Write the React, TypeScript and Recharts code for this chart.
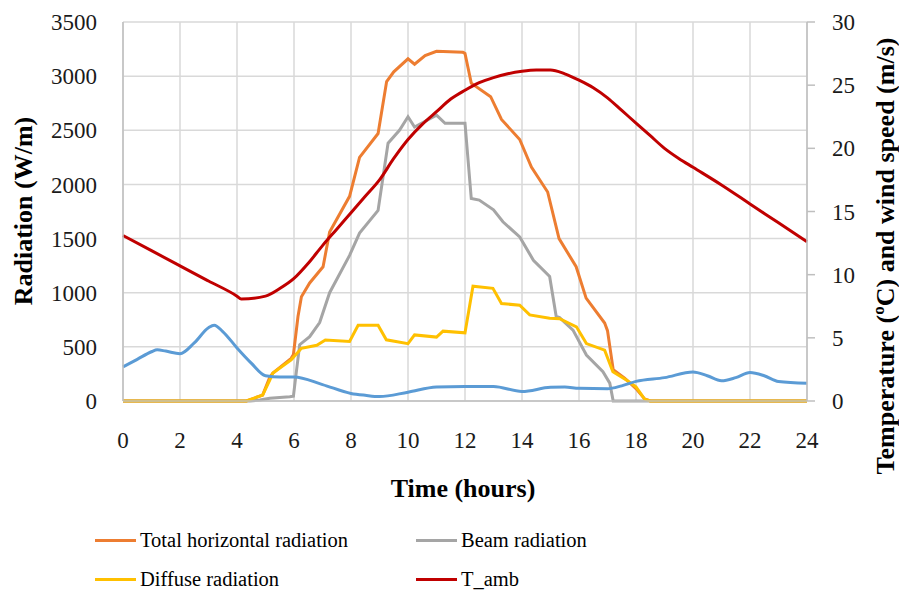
import { CartesianGrid, Line, LineChart, XAxis, YAxis } from "recharts"

const hourTicks = [0, 2, 4, 6, 8, 10, 12, 14, 16, 18, 20, 22, 24]
const radiationTicks = [0, 500, 1000, 1500, 2000, 2500, 3000, 3500]
const tempTicks = [0, 5, 10, 15, 20, 25, 30]

// Total horizontal radiation (W/m)
const totalHours = [0, 4.33, 4.9, 5.15, 5.26, 5.9, 5.98, 6.14, 6.26, 6.55, 7.02, 7.25, 7.95, 8.3, 8.95, 9.25, 9.5, 10.0, 10.23, 10.6, 11.0, 11.93, 12.0, 12.22, 12.9, 13.28, 13.92, 14.33, 14.9, 15.3, 15.9, 16.25, 16.9, 17.0, 17.2, 17.6, 18.0, 18.3, 18.5, 24]
const totalValues = [0, 0, 55, 220, 258, 394, 430, 780, 963, 1090, 1240, 1560, 1890, 2250, 2470, 2950, 3040, 3160, 3110, 3190, 3230, 3220, 3210, 2935, 2810, 2600, 2415, 2160, 1930, 1500, 1240, 950, 720, 650, 290, 210, 115, 20, 0, 0]

// Beam radiation
const beamHours = [0, 4.45, 4.8, 5.15, 5.85, 5.98, 6.05, 6.2, 6.55, 6.9, 7.25, 7.95, 8.3, 8.95, 9.3, 9.7, 10.0, 10.23, 11.0, 11.3, 12.0, 12.22, 12.5, 13.0, 13.33, 13.92, 14.4, 14.97, 15.2, 15.32, 15.79, 16.26, 16.84, 17.08, 17.2, 24]
const beamValues = [0, 0, 9, 25, 40, 45, 200, 520, 594, 725, 1000, 1345, 1550, 1760, 2380, 2500, 2625, 2530, 2640, 2565, 2565, 1870, 1855, 1765, 1655, 1515, 1300, 1150, 780, 770, 655, 425, 270, 165, 0, 0]

// Diffuse radiation
const diffuseHours = [0, 4.33, 4.9, 5.15, 5.26, 5.9, 6.26, 6.8, 7.1, 7.95, 8.25, 8.95, 9.24, 10.0, 10.23, 11.0, 11.23, 12.0, 12.28, 12.98, 13.28, 13.92, 14.27, 14.97, 15.32, 15.91, 16.26, 16.9, 17.19, 17.66, 18.0, 18.3, 18.5, 24]
const diffuseValues = [0, 0, 55, 194, 258, 380, 486, 515, 563, 550, 700, 700, 565, 530, 610, 590, 645, 630, 1060, 1040, 900, 885, 795, 765, 760, 685, 530, 470, 270, 195, 130, 18, 0, 0]

// T_amb (ºC)
const tempHours = [0, 1, 2, 3, 4, 4.15, 5, 5.5, 6, 6.5, 7, 7.5, 8, 8.5, 9, 9.5, 10, 10.5, 11, 11.5, 12, 12.5, 13, 13.5, 14, 14.5, 15, 15.5, 16, 16.5, 17, 17.5, 18, 18.5, 19, 19.5, 20, 21, 22, 23, 24]
const tempValues = [13.1, 11.9, 10.7, 9.5, 8.3, 8.07, 8.3, 8.9, 9.7, 10.9, 12.3, 13.6, 14.9, 16.2, 17.5, 19.2, 20.7, 21.9, 22.9, 23.9, 24.6, 25.2, 25.6, 25.9, 26.1, 26.2, 26.2, 25.9, 25.4, 24.8, 24.0, 23.0, 22.0, 21.0, 20.0, 19.2, 18.5, 17.1, 15.6, 14.1, 12.6]

// wind speed (m/s)
const windHours = [0, 0.5, 1, 1.2, 1.5, 2, 2.5, 3, 3.2, 3.5, 4, 4.5, 5, 5.5, 6, 7, 8, 8.5, 9, 10, 11, 12, 13, 14, 15, 15.5, 16, 17, 17.5, 18, 19, 20, 20.5, 21, 21.5, 22, 22.5, 23, 24]
const windValues = [2.7, 3.3, 3.9, 4.05, 3.95, 3.75, 4.6, 5.8, 6.0, 5.5, 4.2, 3.0, 2.0, 1.9, 1.9, 1.3, 0.6, 0.45, 0.35, 0.7, 1.1, 1.15, 1.15, 0.75, 1.08, 1.1, 1.0, 0.97, 1.2, 1.55, 1.85, 2.3, 2.0, 1.6, 1.85, 2.25, 2.0, 1.55, 1.4]

const toSeries = (hours: number[], values: number[]) => hours.map((t, i) => ({ t, v: values[i] }))

const totalData = toSeries(totalHours, totalValues)
const beamData = toSeries(beamHours, beamValues)
const diffuseData = toSeries(diffuseHours, diffuseValues)
const tempData = toSeries(tempHours, tempValues)
const windData = toSeries(windHours, windValues)

const legendItems = [
  { name: "Total horizontal radiation", color: "#ED7D31", left: 95, top: 529 },
  { name: "Beam radiation", color: "#A5A5A5", left: 416, top: 529 },
  { name: "Diffuse radiation", color: "#FFC000", left: 95, top: 568 },
  { name: "T_amb", color: "#C00000", left: 416, top: 568 },
]

const font = "'Liberation Serif', 'Times New Roman', serif"
const tickStyle = { fontSize: 23, fill: "#1a1a1a", fontFamily: font }
const axisGray = "#bfbfbf"
const gridGray = "#d9d9d9"

function Title({ x, y, text, rotate }: { x: number; y: number; text: string; rotate?: boolean }) {
  return (
    <text
      x={x}
      y={y}
      textAnchor="middle"
      dominantBaseline="central"
      transform={rotate ? `rotate(-90, ${x}, ${y})` : undefined}
      style={{ fontSize: 26, fontWeight: 700, fontFamily: font, fill: "#000" }}
    >
      {text}
    </text>
  )
}

export default function App() {
  return (
    <div style={{ position: "absolute", left: 0, top: 0, width: 899, height: 590, background: "#fff" }}>
      <LineChart width={899} height={590} margin={{ top: 22, right: 12, left: 13, bottom: 159 }}>
        <CartesianGrid yAxisId="left" stroke={gridGray} strokeWidth={1.5} />
        <XAxis
          dataKey="t"
          type="number"
          domain={[0, 24]}
          ticks={hourTicks}
          interval={0}
          height={30}
          tick={tickStyle}
          tickSize={0}
          tickMargin={31}
          axisLine={{ stroke: axisGray, strokeWidth: 1.5 }}
          allowDuplicatedCategory={false}
          label={{ content: () => <Title x={463} y={488} text="Time (hours)" /> }}
        />
        <YAxis
          yAxisId="left"
          domain={[0, 3500]}
          ticks={radiationTicks}
          interval={0}
          width={110}
          tick={tickStyle}
          tickSize={0}
          tickMargin={26}
          axisLine={{ stroke: axisGray, strokeWidth: 1.5 }}
          label={{ content: () => <Title x={23} y={211} text="Radiation (W/m)" rotate /> }}
        />
        <YAxis
          yAxisId="right"
          orientation="right"
          domain={[0, 30]}
          ticks={tempTicks}
          interval={0}
          width={80}
          tick={{ ...tickStyle, textAnchor: "start" }}
          tickSize={8}
          tickMargin={17}
          tickLine={{ stroke: axisGray, strokeWidth: 1.5 }}
          axisLine={{ stroke: axisGray, strokeWidth: 1.5 }}
          label={{
            content: () => <Title x={885} y={256} text="Temperature (ºC) and wind speed (m/s)" rotate />,
          }}
        />
        <Line yAxisId="left" data={totalData} dataKey="v" name="Total horizontal radiation" type="linear" stroke="#ED7D31" strokeWidth={3} dot={false} isAnimationActive={false} />
        <Line yAxisId="left" data={beamData} dataKey="v" name="Beam radiation" type="linear" stroke="#A5A5A5" strokeWidth={3} dot={false} isAnimationActive={false} />
        <Line yAxisId="left" data={diffuseData} dataKey="v" name="Diffuse radiation" type="linear" stroke="#FFC000" strokeWidth={3} dot={false} isAnimationActive={false} />
        <Line yAxisId="right" data={tempData} dataKey="v" name="T_amb" type="monotone" stroke="#C00000" strokeWidth={3} dot={false} isAnimationActive={false} />
        <Line yAxisId="right" data={windData} dataKey="v" name="Wind speed" type="monotone" stroke="#5B9BD5" strokeWidth={3} dot={false} isAnimationActive={false} />
      </LineChart>
      {legendItems.map((item) => (
        <div
          key={item.name}
          style={{
            position: "absolute",
            left: item.left,
            top: item.top,
            height: 22,
            display: "flex",
            alignItems: "center",
            fontFamily: font,
            fontSize: 20.5,
            color: "#000",
            whiteSpace: "nowrap",
          }}
        >
          <span style={{ display: "inline-block", width: 41, height: 3, background: item.color, marginRight: 4 }} />
          {item.name}
        </div>
      ))}
    </div>
  )
}
